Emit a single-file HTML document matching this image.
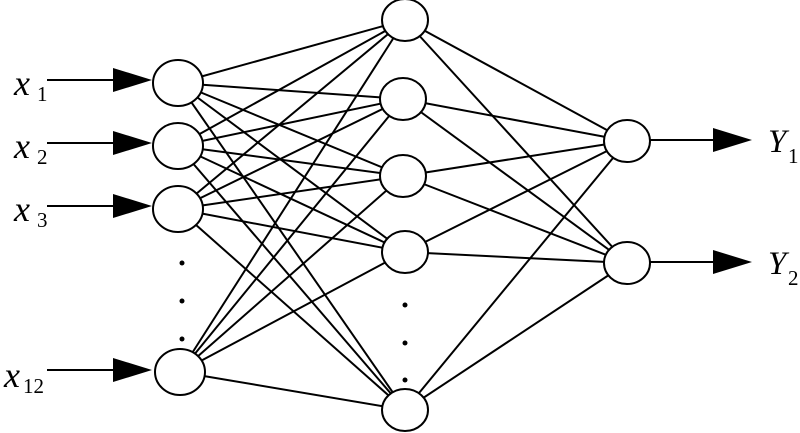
<!DOCTYPE html>
<html><head><style>body{margin:0;background:#fff}svg{display:block}text{font-family:"Liberation Serif","Times New Roman",serif}</style></head><body>
<svg width="800" height="433" viewBox="0 0 800 433" xmlns="http://www.w3.org/2000/svg">
<g stroke="#000" stroke-width="2">
<line x1="178" y1="83" x2="405" y2="20"/><line x1="178" y1="83" x2="403" y2="99"/><line x1="178" y1="83" x2="403" y2="176"/><line x1="178" y1="83" x2="405" y2="252"/><line x1="178" y1="83" x2="405" y2="410"/>
<line x1="178" y1="146" x2="405" y2="20"/><line x1="178" y1="146" x2="403" y2="99"/><line x1="178" y1="146" x2="403" y2="176"/><line x1="178" y1="146" x2="405" y2="252"/><line x1="178" y1="146" x2="405" y2="410"/>
<line x1="178" y1="209" x2="405" y2="20"/><line x1="178" y1="209" x2="403" y2="99"/><line x1="178" y1="209" x2="403" y2="176"/><line x1="178" y1="209" x2="405" y2="252"/><line x1="178" y1="209" x2="405" y2="410"/>
<line x1="180" y1="372" x2="405" y2="20"/><line x1="180" y1="372" x2="403" y2="99"/><line x1="180" y1="372" x2="403" y2="176"/><line x1="180" y1="372" x2="405" y2="252"/><line x1="180" y1="372" x2="405" y2="410"/>
<line x1="405" y1="20" x2="627" y2="141"/><line x1="403" y1="99" x2="627" y2="141"/><line x1="403" y1="176" x2="627" y2="141"/><line x1="405" y1="252" x2="627" y2="141"/><line x1="405" y1="410" x2="627" y2="141"/>
<line x1="405" y1="20" x2="627" y2="263"/><line x1="403" y1="99" x2="627" y2="263"/><line x1="403" y1="176" x2="627" y2="263"/><line x1="405" y1="252" x2="627" y2="263"/><line x1="405" y1="410" x2="627" y2="263"/>
<line x1="47" y1="80" x2="120" y2="80"/><line x1="47" y1="143" x2="120" y2="143"/><line x1="47" y1="206" x2="120" y2="206"/><line x1="47" y1="370" x2="120" y2="370"/>
<line x1="650" y1="140" x2="718" y2="140"/><line x1="650" y1="262" x2="718" y2="262"/>
</g>
<g fill="#000">
<polygon points="113,68 152,80 113,92"/><polygon points="113,131 152,143 113,155"/><polygon points="113,194 152,206 113,218"/><polygon points="113,358 152,370 113,382"/>
<polygon points="713,128 752,140 713,152"/><polygon points="713,250 752,262 713,274"/>
<circle cx="182" cy="263" r="2.5"/><circle cx="182" cy="301" r="2.5"/><circle cx="182" cy="339" r="2.5"/>
<circle cx="405" cy="305" r="2.5"/><circle cx="405" cy="343" r="2.5"/><circle cx="405" cy="380" r="2.5"/>
</g>
<g fill="#fff" stroke="#000" stroke-width="2">
<ellipse cx="178" cy="83" rx="25" ry="23"/><ellipse cx="178" cy="146" rx="25" ry="23"/><ellipse cx="178" cy="209" rx="25" ry="23"/><ellipse cx="180" cy="372" rx="25" ry="23"/>
<ellipse cx="405" cy="20" rx="23" ry="21"/><ellipse cx="403" cy="99" rx="23" ry="21"/><ellipse cx="403" cy="176" rx="23" ry="21"/><ellipse cx="405" cy="252" rx="23" ry="21"/><ellipse cx="405" cy="410" rx="23" ry="21"/>
<ellipse cx="627" cy="141" rx="23" ry="21"/><ellipse cx="627" cy="263" rx="23" ry="21"/>
</g>
<g font-style="italic" font-size="36" fill="#000">
<text x="14" y="95">x</text><text x="14" y="158">x</text><text x="14" y="221">x</text><text x="4" y="387">x</text>
</g>
<g font-style="italic" font-size="33" fill="#000">
<text x="768" y="152">Y</text><text x="768" y="274">Y</text>
</g>
<g font-size="21" fill="#000">
<text x="37" y="101">1</text><text x="37" y="164">2</text><text x="37" y="227">3</text><text x="23" y="393">12</text>
<text x="788" y="163">1</text><text x="788" y="285">2</text>
</g>
</svg>
</body></html>
